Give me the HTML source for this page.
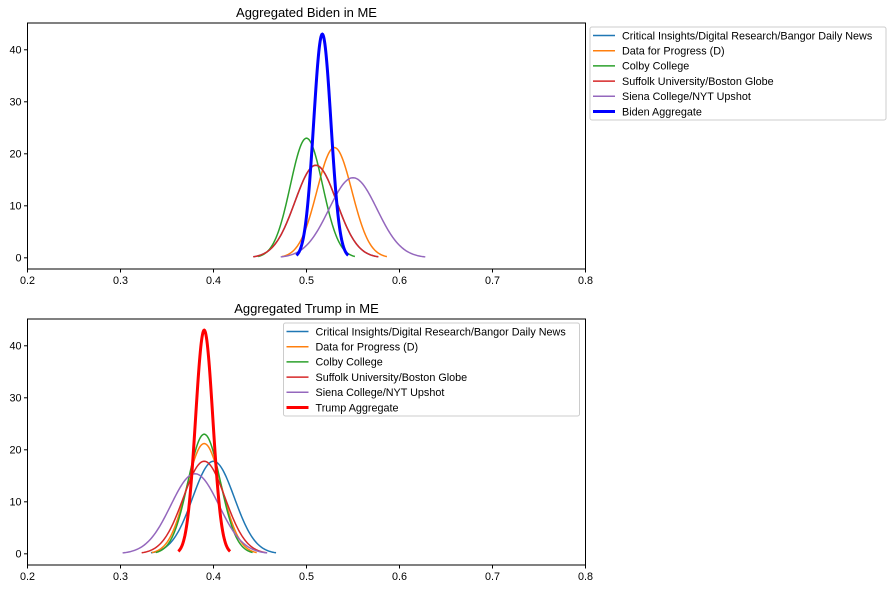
<!DOCTYPE html>
<html><head><meta charset="utf-8">
<style>
body{margin:0;background:#fff;}
svg{display:block;font-family:"Liberation Sans","DejaVu Sans",sans-serif;}
</style></head>
<body>
<svg id="fig" width="893" height="590" viewBox="0 0 893 590" xmlns="http://www.w3.org/2000/svg"></svg>
<script>
const pollNames = ["Critical Insights/Digital Research/Bangor Daily News","Data for Progress (D)","Colby College","Suffolk University/Boston Globe","Siena College/NYT Upshot"];
const pollColors = ["#1f77b4","#ff7f0e","#2ca02c","#d62728","#9467bd"];
const bidenMeans = [0.510,0.530,0.500,0.510,0.550];
const bidenPeaks = [17.8,21.2,23.0,17.8,15.4];
const bidenAggMean = 0.517, bidenAggPeak = 43.0;
const trumpMeans = [0.400,0.390,0.390,0.390,0.380];
const trumpPeaks = [17.8,21.2,23.0,17.8,15.4];
const trumpAggMean = 0.390, trumpAggPeak = 43.0;
const xTicks = [0.2,0.3,0.4,0.5,0.6,0.7,0.8];
const yTicks = [0,10,20,30,40];

const NS="http://www.w3.org/2000/svg";
const svg=document.getElementById('fig');
function mk(tag,attrs,parent){const e=document.createElementNS(NS,tag);for(const k in attrs)e.setAttribute(k,attrs[k]);(parent||svg).appendChild(e);return e;}

function panel(top,title,means,peaks,aggMean,aggPeak,aggName,aggColor,legX,legY,prefix){
  const L=27.5,R=585.5,T=top,B=top+246;
  const xs=v=>L+(v-0.2)/(0.6)*(R-L);
  const ymin=-2.15,ymax=45.15;
  const ys=v=>B-(v-ymin)/(ymax-ymin)*(B-T);
  const g=mk('g',{});
  
  
  const t=mk('text',{x:(L+R)/2,y:T-6,'text-anchor':'middle','font-size':'13',fill:'#000'},g);
  t.textContent=title;
  
  function curve(m,pk,color,w,name){
    const sd=1/(pk*Math.sqrt(2*Math.PI));
    let d='';
    for(let i=0;i<=120;i++){const x=m-3*sd+6*sd*i/120;const y=pk*Math.exp(-0.5*((x-m)/sd)**2);d+=(i?'L':'M')+xs(x).toFixed(2)+','+ys(y).toFixed(2);}
    const p=mk('path',{d:d,fill:'none',stroke:color,'stroke-width':w},g);
    
  }
  for(let i=0;i<means.length;i++)curve(means[i],peaks[i],pollColors[i],1.5,prefix+'-curve-'+(i+1));
  curve(aggMean,aggPeak,aggColor,3,prefix+'-aggregate-curve');
  const fr=mk('rect',{x:L,y:T,width:R-L,height:B-T,fill:'none',stroke:'#000','stroke-width':1},g);
  
  xTicks.forEach(v=>{
    const x=xs(v);mk('line',{x1:x,x2:x,y1:B,y2:B+3.5,stroke:'#000'},g);
    const tx=mk('text',{x:x,y:B+15,'text-anchor':'middle','font-size':'10.8',fill:'#000'},g);tx.textContent=v.toFixed(1);
    
  });
  yTicks.forEach(v=>{
    const y=ys(v);mk('line',{x1:L,x2:L-3.5,y1:y,y2:y,stroke:'#000'},g);
    const ty=mk('text',{x:L-6,y:y+3.8,'text-anchor':'end','font-size':'10.8',fill:'#000'},g);ty.textContent=v;
    
  });
  const lg=mk('g',{},g);
  
  mk('rect',{x:legX,y:legY,width:296,height:93,rx:2,fill:'#fff',stroke:'#ccc','stroke-width':1},lg);
  const names=pollNames.concat([aggName]);const cols=pollColors.concat([aggColor]);
  names.forEach((n,i)=>{
    const y=legY+8.5+i*15.2;
    mk('line',{x1:legX+3,x2:legX+25,y1:y,y2:y,stroke:cols[i],'stroke-width':i==5?3:1.5},lg);
    const tt=mk('text',{x:legX+32,y:y+3.8,'font-size':'10.8',fill:'#000'},lg);tt.textContent=n;
    
  });
}
panel(23,"Aggregated Biden in ME",bidenMeans,bidenPeaks,bidenAggMean,bidenAggPeak,"Biden Aggregate","#0000ff",590,27,'biden');
panel(319,"Aggregated Trump in ME",trumpMeans,trumpPeaks,trumpAggMean,trumpAggPeak,"Trump Aggregate","#ff0000",283.5,323,'trump');
</script>
</body></html>
